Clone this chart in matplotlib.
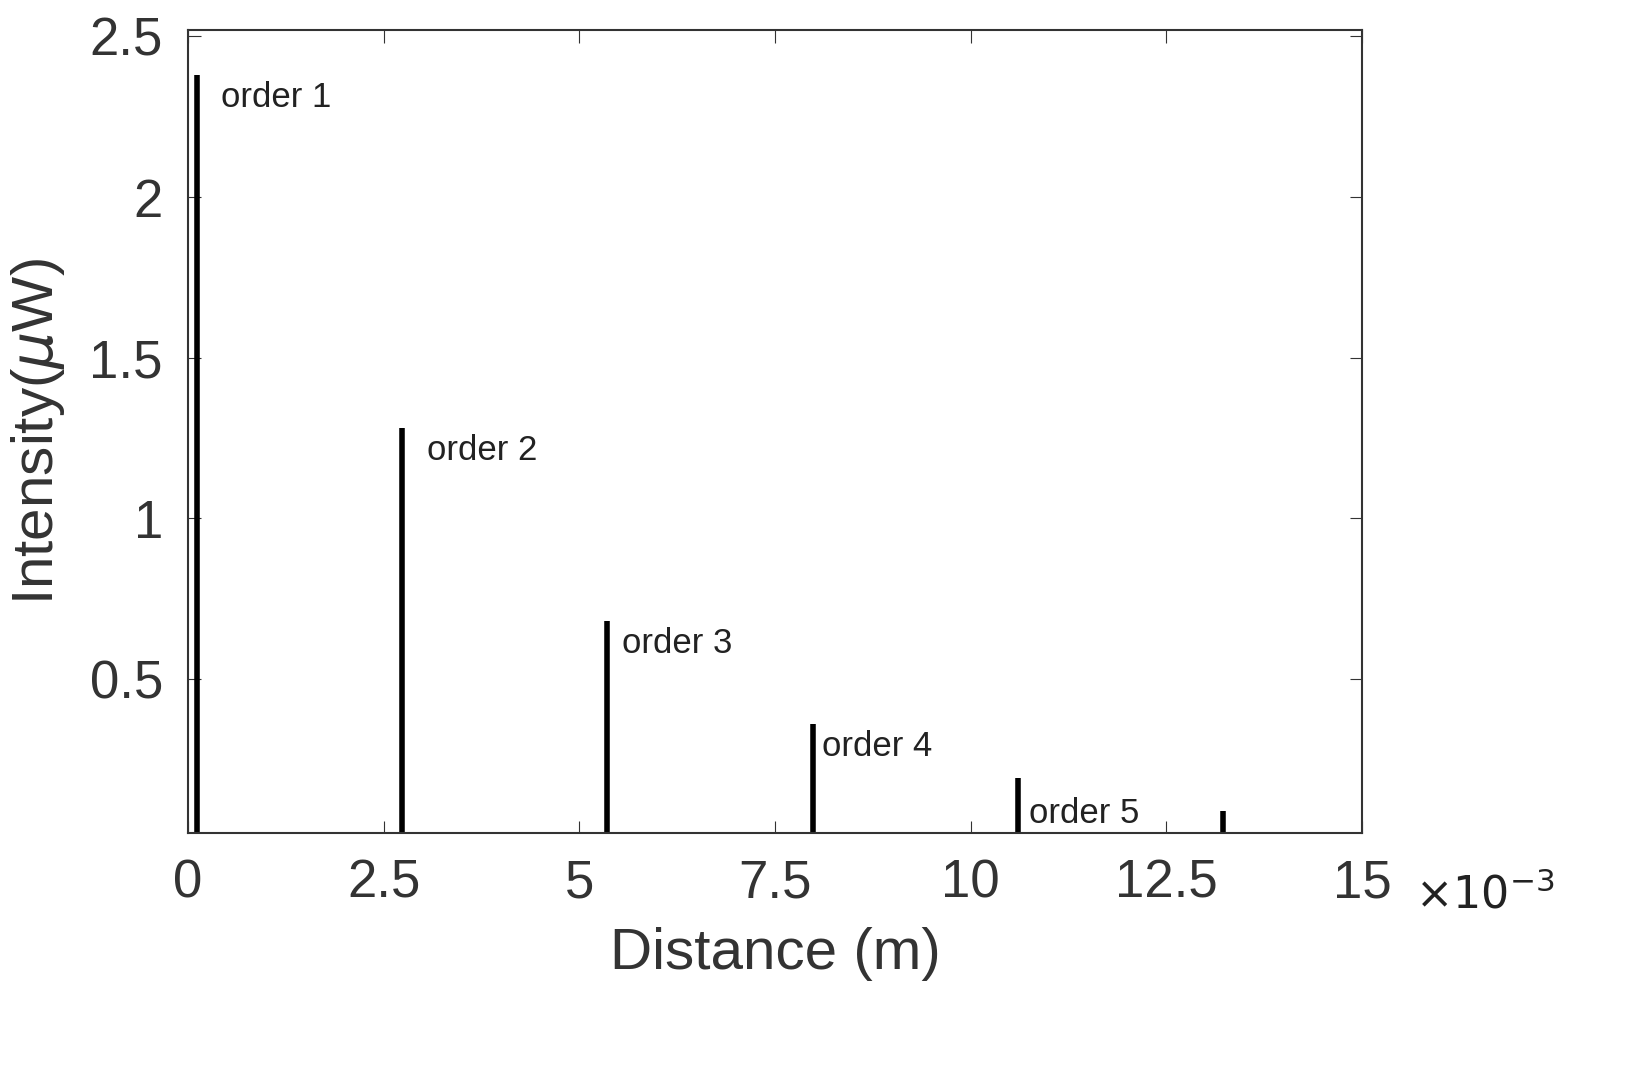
import matplotlib
matplotlib.use("Agg")
import matplotlib.pyplot as plt

plt.rcParams["font.family"] = ["Liberation Sans", "DejaVu Sans"]

# peak positions (x1e-3 m) and intensities (uW)
peak_pos = [0.12, 2.73, 5.35, 7.98, 10.61, 13.23]
peak_int = [2.38, 1.28, 0.68, 0.36, 0.19, 0.09]
order_labels = ["order 1", "order 2", "order 3", "order 4", "order 5"]
label_xy = [(0.42, 2.28), (3.05, 1.18), (5.55, 0.58), (8.1, 0.26), (10.75, 0.05)]

fig = plt.figure(figsize=(16.33, 10.69), dpi=100)
ax = fig.add_axes([188 / 1633, 1 - 833 / 1069, 1174 / 1633, 803 / 1069])

ax.vlines([p * 1e-3 for p in peak_pos], 0, peak_int, color="black", lw=4)
for lab, (x, y) in zip(order_labels, label_xy):
    ax.text(x * 1e-3, y, lab, fontsize=25, color="#222222")

ax.set_xlim(0, 15e-3)
ax.set_ylim(0.02, 2.52)
ax.set_xticks([i * 2.5e-3 for i in range(7)])
ax.set_xticklabels(["0", "2.5", "5", "7.5", "10", "12.5", "15"])
ax.set_yticks([0.5, 1, 1.5, 2, 2.5])
ax.set_yticklabels(["0.5", "1", "1.5", "2", "2.5"])
ax.tick_params(labelsize=38, colors="#333333", direction="in", length=9, pad=18,
               top=True, right=True)
for s in ax.spines.values():
    s.set_color("#333333")
    s.set_linewidth(1.5)
ax.set_xlabel("Distance (m)", fontsize=42, color="#333333", labelpad=14)
ax.set_ylabel(r"Intensity($\mu$W)", fontsize=42, color="#333333", labelpad=16)
fig.text(1415 / 1633, 1 - 895 / 1069, r"$\times10^{-3}$", fontsize=32, color="#222222", va="center")

fig.savefig("out.png", dpi=100)
